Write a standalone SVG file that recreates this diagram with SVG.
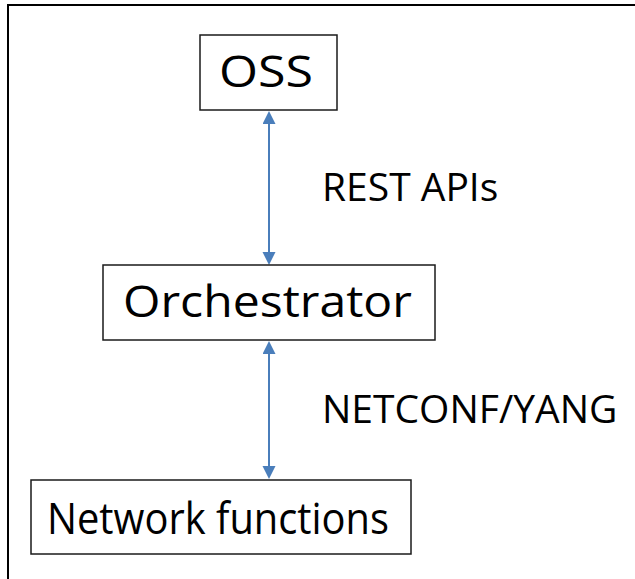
<svg xmlns="http://www.w3.org/2000/svg" width="635" height="579" viewBox="0 0 635 579">
  <style>
    .frame { fill: none; stroke: #000; stroke-width: 2; }
    .box { fill: #fff; stroke: #1a1a1a; stroke-width: 1.5; }
    .node-text { font-family: "Open Sans", "Noto Sans", sans-serif; font-size: 43px; fill: #000; }
    .label { font-family: "Open Sans", "Noto Sans", sans-serif; font-size: 39px; fill: #000; }
    .link { stroke: #4A7EBB; stroke-width: 2; fill: none; marker-start: url(#head); marker-end: url(#head); }
  </style>
  <defs>
    <marker id="head" markerUnits="userSpaceOnUse" markerWidth="14" markerHeight="14" refX="0" refY="6.5" orient="auto-start-reverse">
      <path d="M0,0 L13,6.5 L0,13 z" fill="#4A7EBB"/>
    </marker>
  </defs>
  <rect x="0" y="0" width="635" height="579" fill="#fff"/>
  <!-- outer border -->
  <rect class="frame" x="8" y="5" width="700" height="700"/>

  <g id="connectors">
    <line class="link" x1="269" y1="124" x2="269" y2="252"/>
    <line class="link" x1="269" y1="354" x2="269" y2="466"/>
    <text class="label" x="322" y="201">REST APIs</text>
    <text class="label" x="322" y="423">NETCONF/YANG</text>
  </g>

  <g id="oss">
    <rect class="box" x="200" y="35" width="137" height="75"/>
    <text class="node-text" x="219" y="87" textLength="94" lengthAdjust="spacingAndGlyphs">OSS</text>
  </g>

  <g id="orchestrator">
    <rect class="box" x="103" y="265" width="332" height="75"/>
    <text class="node-text" x="123" y="317" textLength="289" lengthAdjust="spacingAndGlyphs">Orchestrator</text>
  </g>

  <g id="network-functions">
    <rect class="box" x="31" y="480" width="380" height="74"/>
    <text class="node-text" x="47" y="534" textLength="342" lengthAdjust="spacingAndGlyphs">Network functions</text>
  </g>
</svg>
